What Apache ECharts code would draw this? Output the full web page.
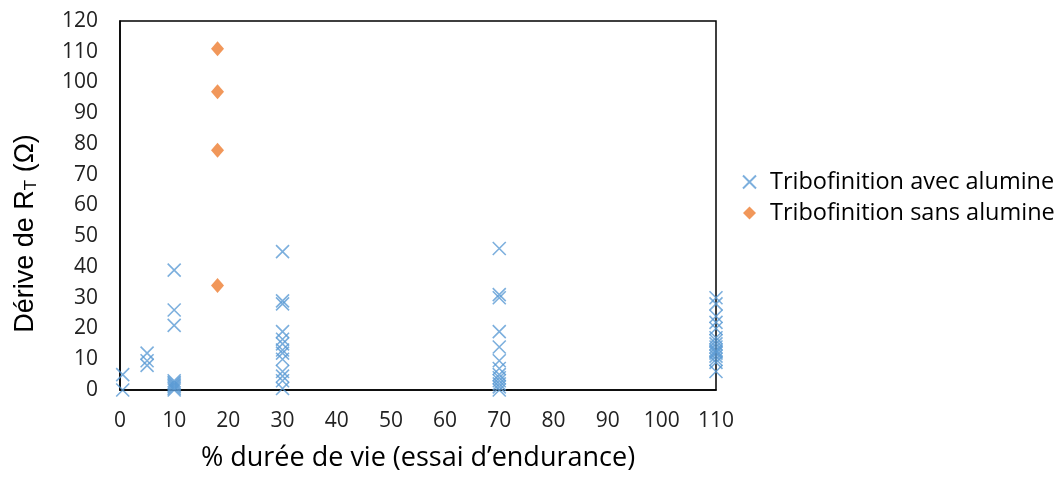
<!DOCTYPE html>
<html><head><meta charset="utf-8">
<script src="https://cdn.jsdelivr.net/npm/echarts@6/dist/echarts.min.js"></script>
<style>html,body{margin:0;padding:0;background:#fff}#c{width:1062px;height:477px}</style>
</head><body><div id="c"></div>
<script>
const xTicks = [0,10,20,30,40,50,60,70,80,90,100,110];
const avecX = [0.5,0.5, 5,5,5, 10,10,10,10,10,10,10,10,10,10,
  30,30,30,30,30,30,30,30,30,30,30,30,30,
  70,70,70,70,70,70,70,70,70,70,70,70,70,
  110,110,110,110,110,110,110,110,110,110,110,110,110,110,110,110];
const avecY = [5,0, 12,9.5,8, 39,26,21,3,2.5,2,1.5,1,0.5,0,
  45,29,28,19,16.5,15,13,12,10,6,4.5,3,0.5,
  46,31,30,19,14,9.5,7,5,4,3,2,1,0,
  30,28,24,22,20,17,16,15,14,13,12.5,12,11,10,9,6];
const sansX = [18,18,18,18];
const sansY = [111,97,78,34];
const names = ['Tribofinition avec alumine','Tribofinition sans alumine'];

const font = '"Open Sans", "Noto Sans", sans-serif';
const arial = '"Liberation Sans", Arial, sans-serif';
const chart = echarts.init(document.getElementById('c'));
chart.setOption({
  animation:false,
  textStyle:{fontFamily:font},
  grid:{left:120,top:21,right:346,bottom:82,show:true,borderColor:'#000',borderWidth:1.5,backgroundColor:'transparent'},
  legend:{orient:'vertical',left:737,top:165,itemGap:7,itemWidth:13,itemHeight:13,
    textStyle:{fontSize:23.5,color:'#000',fontFamily:font,padding:[0,0,0,9]},data:names},
  xAxis:{type:'value',min:0,max:110,interval:10,
    axisLine:{show:true,onZero:false,lineStyle:{color:'#000',width:1.5}},axisTick:{show:false},splitLine:{show:false},
    axisLabel:{fontSize:21,color:'#222',margin:21,formatter:v=>xTicks.includes(v)?String(v):''},
    name:'% durée de vie (essai d’endurance)',nameLocation:'middle',nameGap:55,
    nameTextStyle:{fontSize:27,color:'#000'}},
  yAxis:{type:'value',min:0,max:120,interval:10,
    axisLine:{show:true,lineStyle:{color:'#000',width:1.5}},axisTick:{show:false},splitLine:{show:false},
    axisLabel:{fontSize:21,color:'#222',margin:22},
    name:'{a|Dérive de R}{s|T}{a| (Ω)}',nameLocation:'middle',nameGap:80,
    nameTextStyle:{padding:[0,56,0,0],rich:{a:{fontSize:27,color:'#000',fontFamily:arial},s:{fontSize:17,color:'#000',verticalAlign:'bottom',padding:[12,0,0,0],fontFamily:arial}}}},
  series:[
    {name:names[0],type:'scatter',data:avecX.map((x,i)=>[x,avecY[i]]),
      symbol:'path://M0,0L10,10M10,0L0,10',symbolSize:13,
      itemStyle:{color:'rgba(0,0,0,0)',borderColor:'#5B9BD5',borderWidth:1.6}},
    {name:names[1],type:'scatter',data:sansX.map((x,i)=>[x,sansY[i]]),
      symbol:'diamond',symbolSize:[13,15],itemStyle:{color:'#ED7D31'}}
  ]
});
</script></body></html>
